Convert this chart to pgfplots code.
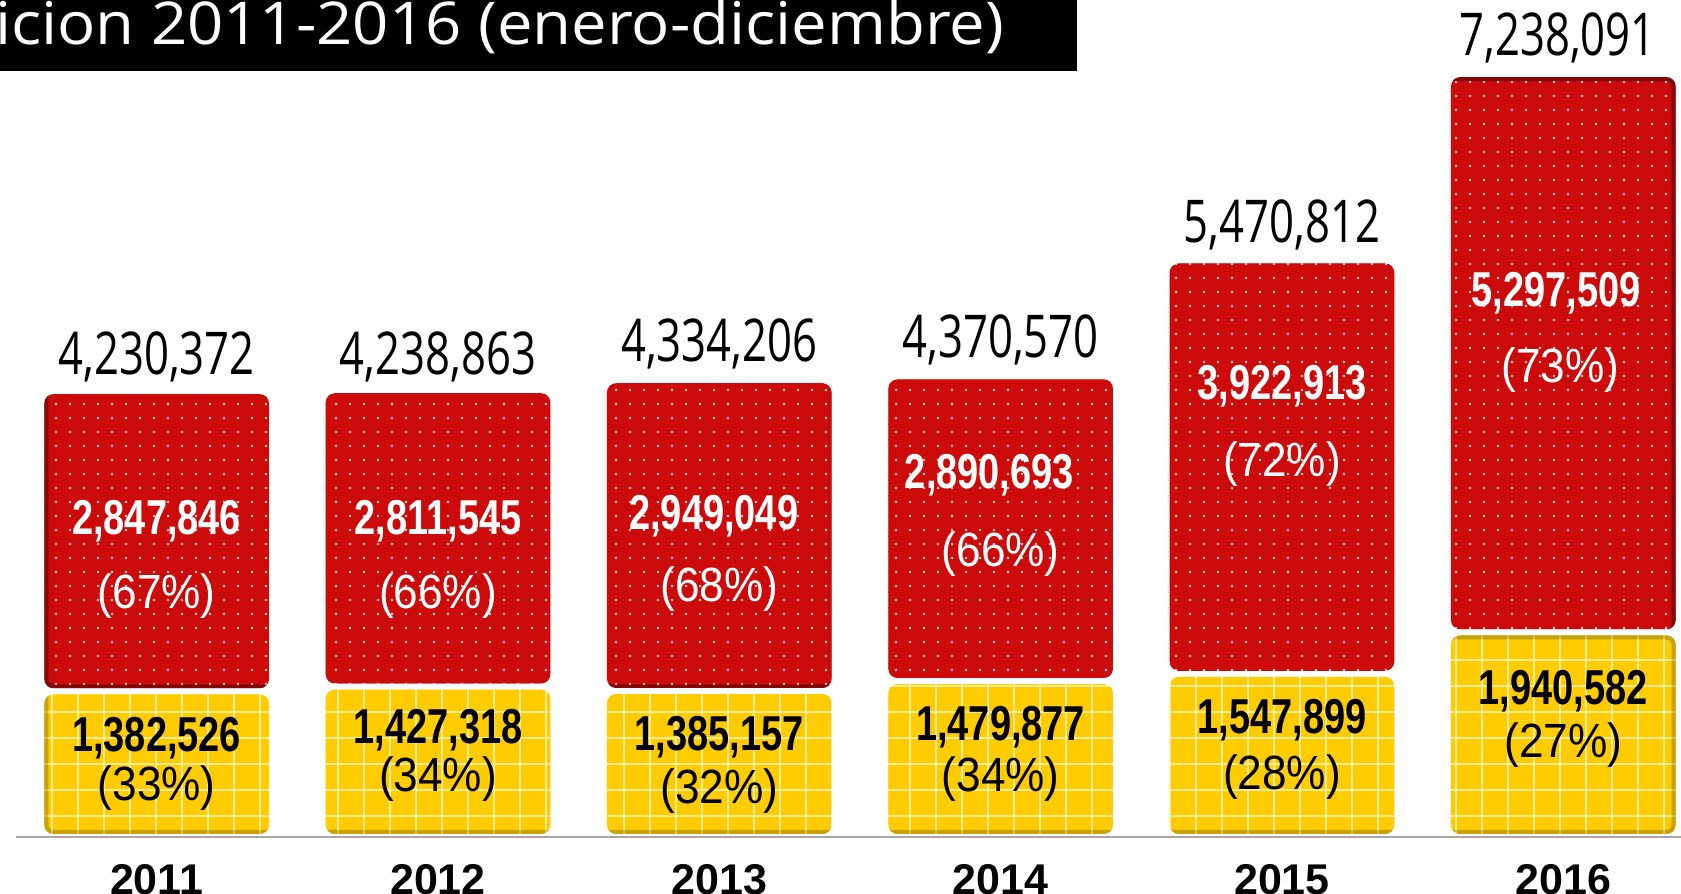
\documentclass[border=0pt]{standalone}
\usepackage{fontspec}
\setmainfont{Liberation Sans}
\newfontfamily\osans{Open Sans}
\usepackage{graphicx}
\usepackage{pgfplots}
\usepackage{pgfplotstable}
\pgfplotsset{compat=1.18}
\usetikzlibrary{patterns.meta}

\definecolor{barred}{HTML}{CC0A0A}
\definecolor{baryel}{HTML}{FFCC00}
\definecolor{axgray}{HTML}{A6A6A6}

\pgfplotstableread{
x yel red
0 1382526 2847846
1 1427318 2811545
2 1385157 2949049
3 1479877 2890693
4 1547899 3922913
5 1940582 5297509
}\datatable

\newcommand{\wval}[3]{\node[text=white,inner sep=0pt,text depth=0pt,font=\bfseries\fontsize{49}{49}\selectfont] at (axis cs:#1,#2) {\scalebox{0.775}[1]{#3}};}
\newcommand{\wpct}[3]{\node[text=white,inner sep=0pt,text depth=0pt,font=\fontsize{48}{48}\selectfont] at (axis cs:#1,#2) {\scalebox{0.92}[1]{#3}};}
\newcommand{\bval}[3]{\node[text=black,inner sep=0pt,text depth=0pt,font=\bfseries\fontsize{49}{49}\selectfont] at (axis cs:#1,#2) {\scalebox{0.775}[1]{#3}};}
\newcommand{\bpct}[3]{\node[text=black,inner sep=0pt,text depth=0pt,font=\fontsize{48}{48}\selectfont] at (axis cs:#1,#2) {\scalebox{0.92}[1]{#3}};}
\newcommand{\tot}[3]{\node[text=black,inner sep=0pt,text depth=0pt,font=\osans\fontsize{59}{59}\selectfont] at (axis cs:#1,#2) {\scalebox{0.74}[1]{#3}};}

\pgfplotsset{myframe/.style={
  at={(16pt,57pt)}, anchor=south west,
  scale only axis, width=1688pt, height=843.2pt,
  xmin=-0.5, xmax=5.5, ymin=0, ymax=8e6, clip=false}}

\begin{document}
\begin{tikzpicture}[x=1pt,y=1pt]
\path[use as bounding box] (0,0) rectangle (1681,894);
\begin{axis}[
  myframe,
  ybar stacked, bar width=0.82,
  axis x line*=bottom, axis y line=none,
  x axis line style={draw=axgray, line width=2pt},
  axis on top,
  xtick={0,1,2,3,4,5},
  xticklabels={2011,2012,2013,2014,2015,2016},
  xtick style={draw=none},
  xticklabel style={font=\bfseries\fontsize{43}{43}\selectfont, text depth=0pt, inner sep=0pt, anchor=north, yshift=-27pt},
  extra x ticks={-0.5,0.5,1.5,2.5,3.5,4.5,5.5},
  extra x tick labels={},
  extra x tick style={tick align=outside, major tick length=16pt, tick style={draw=axgray, line width=1.6pt}},
  ytick=\empty,
]
\addplot[fill=baryel, draw=white, line width=5.5pt, rounded corners=12pt,
  path picture={\draw[path picture={}, fill=none, draw=baryel!70!black, line width=14pt, rounded corners=12pt, opacity=0.45] (path picture bounding box.south west) rectangle (path picture bounding box.north east);},
  postaction={pattern={Hatch[angle=0,distance=26pt,line width=1.3pt]}, pattern color=white!60!baryel}]
  table[x=x,y=yel]{\datatable};
\addplot[fill=barred, draw=white, line width=5.5pt, rounded corners=12pt,
  path picture={\draw[path picture={}, fill=none, draw=barred!50!black, line width=14pt, rounded corners=12pt, opacity=0.45] (path picture bounding box.south west) rectangle (path picture bounding box.north east);},
  postaction={pattern={Dots[distance=14pt,radius=1.4pt]}, pattern color=white!85!barred}]
  table[x=x,y=red]{\datatable};
\end{axis}

\begin{axis}[myframe, hide axis]
\wval{0}{3.029e6}{2,847,846} \wpct{0}{2.337e6}{(67\%)}
\wval{1}{3.029e6}{2,811,545} \wpct{1}{2.337e6}{(66\%)}
\wval{1.98}{3.079e6}{2,949,049} \wpct{2}{2.398e6}{(68\%)}
\wval{2.96}{3.466e6}{2,890,693} \wpct{3}{2.733e6}{(66\%)}
\wval{4}{4.310e6}{3,922,913} \wpct{4}{3.588e6}{(72\%)}
\wval{4.975}{5.195e6}{5,297,509} \wpct{4.99}{4.473e6}{(73\%)}

\bval{0}{0.973e6}{1,382,526} \bpct{0}{0.516e6}{(33\%)}
\bval{1}{1.045e6}{1,427,318} \bpct{1}{0.597e6}{(34\%)}
\bval{2}{0.984e6}{1,385,157} \bpct{2}{0.486e6}{(32\%)}
\bval{3}{1.075e6}{1,479,877} \bpct{3}{0.597e6}{(34\%)}
\bval{4}{1.146e6}{1,547,899} \bpct{4}{0.618e6}{(28\%)}
\bval{5}{1.421e6}{1,940,582} \bpct{5}{0.923e6}{(27\%)}

\tot{0}{4.595e6}{4,230,372}
\tot{1}{4.595e6}{4,238,863}
\tot{2}{4.716e6}{4,334,206}
\tot{3}{4.757e6}{4,370,570}
\tot{4}{5.846e6}{5,470,812}
\tot{4.98}{7.616e6}{7,238,091}
\end{axis}
\fill[black] (0,823) rectangle (1077,894);
\node[anchor=base west, inner sep=0pt, text=white, font=\osans\fontsize{59}{59}\selectfont] at (-5,849) {\scalebox{1.075}[1]{icion 2011-2016 (enero-diciembre)}};
\end{tikzpicture}
\end{document}
